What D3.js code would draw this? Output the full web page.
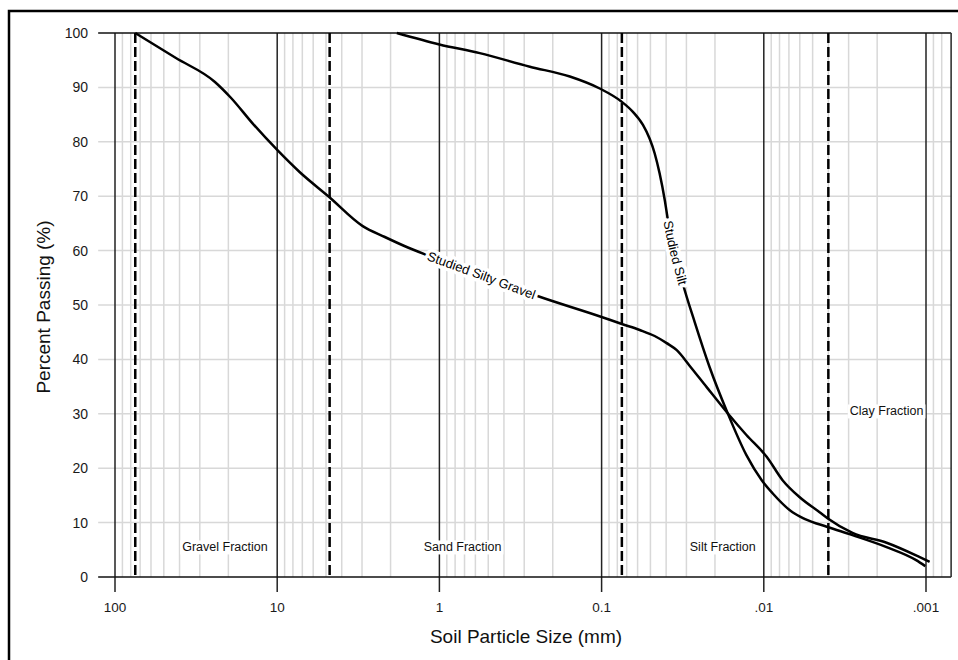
<!DOCTYPE html>
<html>
<head>
<meta charset="utf-8">
<script src="https://cdn.jsdelivr.net/npm/d3@7"></script>
<style>
  body { margin: 0; background: #fff; }
  svg { display: block; font-family: "Liberation Sans", Arial, sans-serif; }
</style>
</head>
<body>
<svg id="chart" width="958" height="660"></svg>
<script>
// particle size (mm) vs percent passing
const gravelSize = [75, 42.1, 24.2, 19.3, 14.1, 10, 7.25, 4.8, 2.97, 2.17, 1.63, 1.2, 0.548, 0.251, 0.1, 0.075, 0.0582, 0.0471, 0.0397, 0.0344, 0.0286, 0.0225, 0.0167, 0.0128, 0.0096, 0.00766, 0.00603, 0.00453, 0.00405, 0.00284, 0.00175, 0.0011, 0.00095];
const gravelPass = [100, 95.4, 91.0, 88.1, 83.3, 78.5, 74.4, 69.9, 64.5, 62.5, 60.8, 59.2, 55.5, 51.7, 47.8, 46.5, 45.4, 44.3, 43.0, 41.7, 38.8, 34.9, 30.1, 26.1, 22.1, 17.8, 14.7, 11.9, 10.8, 8.1, 6.3, 3.7, 2.8];

const siltSize = [1.83, 1, 0.564, 0.277, 0.157, 0.1027, 0.0755, 0.0641, 0.0556, 0.0506, 0.0471, 0.0439, 0.0408, 0.039, 0.0316, 0.0267, 0.0216, 0.0167, 0.0128, 0.0103, 0.00883, 0.00665, 0.00561, 0.00405, 0.00284, 0.00175, 0.00115, 0.00101];
const siltPass = [100, 97.9, 96.3, 93.8, 92.0, 89.8, 87.4, 85.5, 83.1, 80.6, 77.9, 74.2, 69.3, 65.6, 54.0, 46.9, 38.6, 30.1, 22.4, 17.8, 15.4, 11.9, 10.7, 9.2, 7.7, 5.5, 3.1, 2.0];

const seriesNames = ["Studied Silty Gravel", "Studied Silt"];
const seriesLabelAt = [0.55, 0.0355];   // size where each curve label is centred

const boundaries = [75, 4.75, 0.075, 0.004];
const fractionNames = ["Gravel Fraction", "Sand Fraction", "Silt Fraction", "Clay Fraction"];
const fractionSize = [21, 0.72, 0.0179, 0.00175];
const fractionPass = [5.5, 5.5, 5.5, 30.5];

const xTicks = [100, 10, 1, 0.1, 0.01, 0.001];
const xTickText = ["100", "10", "1", "0.1", ".01", ".001"];
const yTicks = [0, 10, 20, 30, 40, 50, 60, 70, 80, 90, 100];
const xEdges = [127, 0.0007];

const svg = d3.select("#chart");

// outer frame
svg.append("rect")
    .attr("x", 9).attr("y", 11).attr("width", 1000).attr("height", 700)
    .attr("fill", "none").attr("stroke", "#000").attr("stroke-width", 2.5);

const x = d3.scaleLog().domain([100, 0.001]).range([115, 926]);
const y = d3.scaleLinear().domain([0, 100]).range([577, 33]);

const left = x(xEdges[0]), right = x(xEdges[1]);

// minor log grid
let minor = [];
for (let e = 1; e >= -4; e--) {
    for (let k = 2; k <= 9; k++) {
        const v = k * Math.pow(10, e);
        if (v < xEdges[0] && v > xEdges[1] * 1.01) minor.push(v);
    }
}

const grid = svg.append("g");
grid.selectAll("line.minor")
    .data(minor)
    .join("line")
    .attr("class", "minor")
    .attr("x1", d => x(d)).attr("x2", d => x(d))
    .attr("y1", y(100)).attr("y2", y(0))
    .attr("stroke", "#d8d8d8").attr("stroke-width", 1.5);

grid.selectAll("line.hgrid")
    .data(yTicks.filter(d => d > 0 && d < 100))
    .join("line")
    .attr("class", "hgrid")
    .attr("x1", left).attr("x2", right)
    .attr("y1", d => y(d)).attr("y2", d => y(d))
    .attr("stroke", "#d8d8d8").attr("stroke-width", 1.5);

grid.selectAll("line.major")
    .data(xTicks)
    .join("line")
    .attr("class", "major")
    .attr("x1", d => x(d)).attr("x2", d => x(d))
    .attr("y1", y(100)).attr("y2", y(0) + 15)
    .attr("stroke", "#222").attr("stroke-width", 1.5);

// frame lines of the plot
grid.append("line")
    .attr("x1", left).attr("x2", right).attr("y1", y(100)).attr("y2", y(100))
    .attr("stroke", "#111").attr("stroke-width", 1.6);
grid.append("line")
    .attr("x1", left).attr("x2", right).attr("y1", y(0)).attr("y2", y(0))
    .attr("stroke", "#111").attr("stroke-width", 1.6);
grid.append("line")
    .attr("x1", right).attr("x2", right).attr("y1", y(100)).attr("y2", y(0))
    .attr("stroke", "#333").attr("stroke-width", 1.6);

// y tick labels
svg.append("g")
    .selectAll("text")
    .data(yTicks)
    .join("text")
    .attr("x", 88)
    .attr("y", d => y(d))
    .attr("dy", "0.35em")
    .attr("text-anchor", "end")
    .attr("font-size", 14)
    .attr("fill", "#1a1a1a")
    .text(d => d);

// x tick labels
svg.append("g")
    .selectAll("text")
    .data(xTicks)
    .join("text")
    .attr("x", d => x(d))
    .attr("y", y(0) + 35)
    .attr("text-anchor", "middle")
    .attr("font-size", 13.5)
    .attr("fill", "#1a1a1a")
    .text((d, i) => xTickText[i]);

// fraction boundaries
svg.append("g")
    .selectAll("line")
    .data(boundaries)
    .join("line")
    .attr("x1", d => x(d)).attr("x2", d => x(d))
    .attr("y1", y(100)).attr("y2", y(0))
    .attr("stroke", "#000").attr("stroke-width", 2.5)
    .attr("stroke-dasharray", "10,4");

// curves
const line = d3.line()
    .x(d => x(d[0]))
    .y(d => y(d[1]))
    .curve(d3.curveMonotoneX);

const series = [
    d3.zip(gravelSize, gravelPass),
    d3.zip(siltSize, siltPass)
];

const paths = svg.append("g")
    .selectAll("path")
    .data(series)
    .join("path")
    .attr("id", (d, i) => "curve" + i)
    .attr("d", line)
    .attr("fill", "none")
    .attr("stroke", "#000")
    .attr("stroke-width", 2.5);

// curve labels following the line: white halo copy first, then the text
paths.each(function(d, i) {
    const node = this;
    const total = node.getTotalLength();
    const target = x(seriesLabelAt[i]);
    let lo = 0, hi = total;
    for (let k = 0; k < 40; k++) {
        const mid = (lo + hi) / 2;
        if (node.getPointAtLength(mid).x < target) lo = mid; else hi = mid;
    }
    [true, false].forEach(halo => {
        svg.append("text")
            .attr("font-size", 13)
            .attr("dy", "0.35em")
            .attr("fill", halo ? "#fff" : "#000")
            .attr("stroke", halo ? "#fff" : "none")
            .attr("stroke-width", halo ? 7 : 0)
            .attr("stroke-linejoin", "round")
            .append("textPath")
            .attr("href", "#curve" + i)
            .attr("startOffset", lo)
            .attr("text-anchor", "middle")
            .text(seriesNames[i]);
    });
});

// fraction labels with white backing
const frac = svg.append("g")
    .selectAll("g")
    .data(fractionNames)
    .join("g")
    .attr("transform", (d, i) => `translate(${x(fractionSize[i])},${y(fractionPass[i])})`);

frac.append("text")
    .attr("text-anchor", "middle")
    .attr("dy", "0.35em")
    .attr("font-size", 12.5)
    .attr("fill", "#111")
    .text(d => d);

frac.insert("rect", "text")
    .each(function() {
        const bb = this.parentNode.querySelector("text").getBBox();
        d3.select(this)
            .attr("x", bb.x - 2).attr("y", bb.y)
            .attr("width", bb.width + 4).attr("height", bb.height)
            .attr("fill", "#fff");
    });

// axis titles
svg.append("text")
    .attr("x", 526).attr("y", 643)
    .attr("text-anchor", "middle")
    .attr("font-size", 19)
    .attr("fill", "#111")
    .text("Soil Particle Size (mm)");

svg.append("text")
    .attr("transform", "translate(50,307) rotate(-90)")
    .attr("text-anchor", "middle")
    .attr("font-size", 19)
    .attr("fill", "#111")
    .text("Percent Passing (%)");
</script>
</body>
</html>
